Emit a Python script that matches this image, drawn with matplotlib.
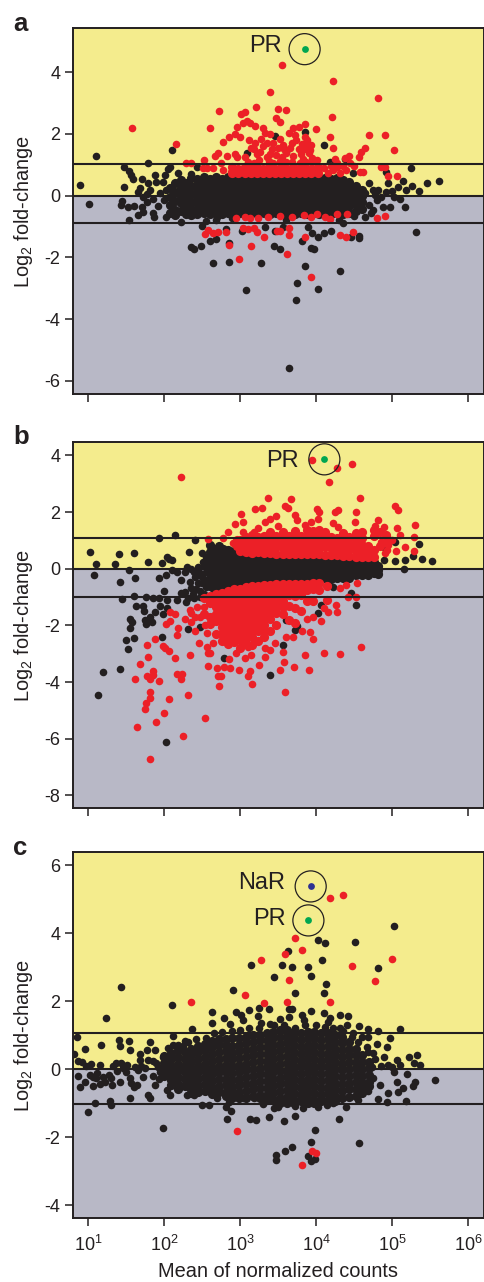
import numpy as np
import matplotlib
matplotlib.use("Agg")
import matplotlib.pyplot as plt

plt.rcParams['font.family'] = ['Liberation Sans', 'DejaVu Sans']
plt.rcParams['mathtext.fontset'] = 'custom'
plt.rcParams['mathtext.rm'] = 'Liberation Sans'
plt.rcParams['mathtext.default'] = 'rm'

# x values are log10(mean of normalized counts), y values are log2 fold-change
x_tick_labels = ['$10^{1}$', '$10^{2}$', '$10^{3}$', '$10^{4}$', '$10^{5}$', '$10^{6}$']
x_tick_exp = [1, 2, 3, 4, 5, 6]

# panel a
a_yticks = [4, 2, 0, -2, -4, -6]
a_lines = [1.03, 0, -0.88]
a_pr = (3.85, 4.75)
a_core = [
    (2.08, [.25, -.05, -.3, -.55]), (2.15, [.42, .12, -.18, -.45, -.62]), (2.22, [.52, .25, 0, -.25, -.5]),
    (2.29, [.4, .15, -.1, -.35, -.6]), (2.36, [.56, .3, .05, -.2, -.42, -.62]),
    (2.44, [.55, .35, .15, -.05, -.25, -.45, -.6]), (2.52, [.6, .45, .25, .05, -.15, -.35, -.55]),
    (2.60, [.55, .35, .15, -.05, -.25, -.45, -.6]), (2.68, [.6, .45, .25, .05, -.15, -.35, -.55]),
    (2.76, [.55, .35, .15, -.05, -.25, -.45, -.58]), (2.84, [.6, .45, .25, .05, -.15, -.35, -.55]),
    (2.92, [.56, .35, .15, -.05, -.25, -.45, -.58]), (3.00, [.6, .45, .25, .05, -.15, -.35, -.55]),
    (3.08, [.55, .36, .15, -.05, -.25, -.45, -.6]), (3.16, [.6, .45, .25, .05, -.15, -.35, -.55]),
    (3.24, [.55, .35, .15, -.05, -.25, -.45, -.6]), (3.32, [.6, .45, .25, .05, -.15, -.35, -.55]),
    (3.40, [.55, .35, .15, -.05, -.25, -.45, -.6]), (3.48, [.6, .45, .25, .05, -.15, -.35, -.55]),
    (3.56, [.55, .35, .15, -.05, -.25, -.45, -.6]), (3.64, [.6, .45, .25, .05, -.15, -.35, -.55]),
    (3.72, [.55, .35, .15, -.05, -.25, -.45, -.6]), (3.80, [.6, .45, .25, .05, -.15, -.35, -.55]),
    (3.88, [.55, .35, .15, -.05, -.25, -.45, -.6]), (3.96, [.6, .45, .25, .05, -.15, -.35, -.55]),
    (4.04, [.55, .35, .15, -.05, -.25, -.45, -.6]), (4.12, [.58, .45, .25, .05, -.15, -.35, -.55]),
    (4.20, [.55, .35, .15, -.05, -.25, -.45, -.6]), (4.28, [.58, .45, .25, .05, -.15, -.35, -.55]),
    (4.36, [.52, .35, .15, -.05, -.25, -.45, -.58]), (4.44, [.45, .25, .05, -.15, -.35, -.55]),
    (4.52, [.3, .12, -.08, -.28, -.48]), (4.60, [.18, -.02, -.22, -.42]),
]
a_black = [
    (.89, .35), (1.01, -.27), (1.11, 1.29), (1.47, .92), (1.47, .29), (1.54, .81), (1.56, .67), (1.59, .55), (1.79, 1.05),
    (2.11, 1.48), (2.08, .94), (2.05, .85), (1.88, .67), (1.79, .42), (1.71, .53), (1.68, .24), (1.66, .13), (2.01, .67),
    (1.99, .45), (2.19, .75), (1.9, .45), (1.82, .18), (1.73, -.03), (1.77, -.2), (1.71, -.36), (1.66, -.63), (1.73, -.52),
    (1.86, -.57), (1.87, -.7), (1.54, -.79), (1.44, -.3), (1.45, -.17), (1.53, -.38), (1.6, -.32), (2.02, -.68), (2.23, -.84),
    (2.5, -.97), (2.55, -.81), (2.69, -.79), (2.82, -1.09), (3.02, -1.14), (3.33, -1.03), (3.46, -1.14), (3.57, -1.0), (3.9, -1.0),
    (3.95, -1.22), (4.03, -1.33), (4.11, -1.2), (4.2, -1.14), (4.35, -.9), (4.3, -.8), (4.46, -1.35), (4.57, -1.31), (4.57, -1.37),
    (5.32, -1.17), (5.17, -.36), (4.98, -.36), (5.1, -.12), (5.03, -.03), (5.15, .49), (5.25, .91), (5.46, .42), (5.62, .49),
    (5.36, .15), (5.26, .31), (5.08, .29), (4.95, .4), (4.92, .78), (4.82, .18), (4.7, .42), (4.75, .2), (4.88, -.36), (4.8, -.14),
    (4.64, -.68), (2.61, -1.47), (2.68, -1.41), (2.86, -1.52), (2.35, -1.65), (2.39, -1.73), (2.49, -1.62), (2.64, -2.17),
    (2.85, -2.14), (3.28, -2.19), (3.08, -3.06), (3.45, -1.63), (3.52, -1.72), (3.81, -1.46), (3.94, -1.71), (3.97, -1.73),
    (3.85, -2.27), (4.32, -2.43), (3.75, -2.82), (3.74, -3.37), (4.02, -3.02), (3.64, -5.6), (3.85, 2.08), (4.11, 1.64),
    (3.46, 1.95), (3.09, 1.4), (3.61, 1.43), (4.18, 1.08), (4.02, .85), (2.43, .94), (2.36, .7), (4.49, .72), (4.38, 1.18),
    (2.7, -.7), (2.9, -.72), (3.6, -.78), (4.65, .1), (4.85, -.05), (5.0, .15), (5.18, .18), (4.72, -.55), (4.5, -.65),
    (1.95, .1), (2.0, -.15), (1.92, -.32), (1.85, -.12), (1.78, .05), (2.02, .2), (4.7, -.3), (4.75, -.45), (4.78, .02), (4.92, .12),
]
a_red_band = [
    (2.90, [.75, .92]), (2.98, [.72, .88]), (3.06, [.75, .92]), (3.14, [.72, .88]), (3.22, [.75, .92]), (3.30, [.72, .88]),
    (3.38, [.75, .92]), (3.46, [.72, .88]), (3.54, [.75, .92]), (3.62, [.72, .88]), (3.70, [.75, .92]), (3.78, [.72, .88]),
    (3.86, [.75, .92]), (3.94, [.72, .88]), (4.02, [.75, .92]),
]
a_red = [
    (1.58, 2.18), (2.16, 1.68), (2.29, 1.07), (2.35, 1.07), (2.52, 1.16), (2.56, .89), (2.65, .89), (2.6, 2.21), (2.73, 2.75),
    (2.67, 1.3), (2.71, 1.39), (2.75, 1.05), (2.78, .83), (2.78, 1.75), (2.86, 1.89), (2.83, 1.29), (2.93, 2.0), (2.93, 1.35),
    (2.96, 1.26), (3.0, 1.91), (2.96, 2.24), (3.01, 2.65), (3.07, 2.71), (3.04, 2.35), (3.09, 2.43), (3.13, 2.35), (3.2, 2.26),
    (3.21, 2.86), (3.39, 3.37), (3.5, 2.81), (3.6, 2.77), (3.48, 2.53), (3.52, 2.38), (3.55, 4.23), (4.23, 3.72), (4.21, 2.54),
    (4.81, 3.16), (3.86, 2.31), (3.7, 2.18), (3.77, 2.22), (4.0, 2.15), (4.19, 1.91), (4.7, 1.97), (4.91, 1.97), (5.03, 1.48),
    (4.23, 1.55), (4.64, 1.54), (4.59, 1.43), (4.56, 1.26), (4.44, 1.29), (4.38, 1.21), (4.25, 1.18), (4.28, 1.05), (3.3, 2.18),
    (3.33, 2.04), (3.39, 2.0), (3.53, 1.83), (3.64, 2.02), (3.72, 1.97), (3.74, 1.81), (3.94, 1.64), (3.88, 1.81), (3.77, 1.51),
    (3.66, 1.54), (3.57, 1.64), (3.44, 1.7), (3.35, 1.7), (3.2, 1.7), (3.12, 1.81), (3.15, 1.54), (3.26, 1.43), (3.35, 1.26),
    (3.48, 1.32), (3.55, 1.26), (3.7, 1.29), (3.91, 1.37), (3.83, 1.18), (4.01, 1.16), (3.07, 1.24), (3.18, 1.05), (3.44, 1.05),
    (3.61, 1.1), (3.79, 1.05), (3.42, 1.5), (3.3, 1.6), (3.6, 1.4), (3.9, 1.6), (3.85, 1.9), (3.1, 1.1), (3.25, 1.15), (3.38, 1.12),
    (3.52, 1.12), (3.68, 1.1), (3.87, 1.1), (3.95, 1.22), (3.22, 1.35), (3.4, 1.35), (3.58, 1.5), (3.8, 1.35), (3.85, 1.5), (3.92, 1.48),
    (3.28, 1.85), (3.5, 1.55), (3.18, 1.52), (3.68, 1.72), (3.82, 1.68), (3.95, 1.1),
    (2.95, -.73), (3.07, -.7), (3.13, -.73), (3.24, -.73), (3.37, -.7), (3.53, -.66), (3.69, -.68), (3.84, -.62), (3.94, -.7),
    (4.01, -.6), (4.12, -.7), (4.18, -.76), (4.28, -.58), (4.41, -.6), (4.8, -.73), (4.91, -.65),
    (2.54, -1.24), (2.58, -1.11), (2.65, -1.2), (2.71, -1.19), (2.81, -1.19), (2.86, -1.6), (3.14, -1.62), (2.99, -2.06),
    (3.04, -1.06), (3.1, -1.09), (3.18, -1.06), (3.22, -1.19), (3.31, -1.35), (3.49, -1.14), (3.53, -1.14), (3.65, -1.04),
    (3.65, -1.26), (3.85, -1.33), (4.32, -1.26), (4.39, -1.33), (4.49, -1.17), (3.62, -1.89), (3.94, -2.63),
    (4.86, .94), (4.91, .94), (4.95, .64), (5.06, .64), (4.58, .78), (4.62, .78), (4.4, .83), (4.32, .72), (4.16, .75), (4.27, .94),
    (4.45, 1.05), (4.23, .83), (4.1, .89), (2.51, .89), (2.88, .78), (4.35, .95), (4.5, .95), (4.2, .95),
]

# panel b
b_yticks = [4, 2, 0, -2, -4, -6, -8]
b_lines = [1.07, 0, -1.0]
b_pr = (4.11, 3.86)
b_core = [
    (2.60, [.85, .6, .4, .2, 0, -.2, -.4, -.6]), (2.66, [.7, .5, .3, .1, -.1, -.3, -.5, -.7]),
    (2.72, [.8, .6, .4, .2, 0, -.2, -.4, -.6, -.75]), (2.78, [.7, .5, .3, .1, -.1, -.3, -.5, -.7]),
    (2.84, [.65, .45, .25, .05, -.15, -.35, -.55, -.72]), (2.92, [.62, .42, .22, .02, -.18, -.38, -.58]),
    (3.00, [.58, .38, .18, -.02, -.22, -.42, -.6]), (3.08, [.52, .32, .12, -.08, -.28, -.48]),
    (3.16, [.5, .3, .1, -.1, -.3, -.5]), (3.24, [.5, .32, .12, -.08, -.28, -.46]),
    (3.32, [.48, .3, .1, -.1, -.3, -.48]), (3.40, [.48, .28, .08, -.12, -.32, -.44]),
    (3.48, [.48, .3, .1, -.1, -.3, -.46]), (3.56, [.46, .28, .08, -.12, -.32, -.44]),
    (3.64, [.48, .3, .1, -.1, -.3, -.44]), (3.72, [.46, .28, .08, -.12, -.32, -.42]),
    (3.80, [.46, .3, .1, -.1, -.3, -.42]), (3.88, [.46, .28, .08, -.12, -.32, -.42]),
    (3.96, [.44, .3, .1, -.1, -.3, -.4]), (4.04, [.44, .26, .06, -.14, -.34, -.4]),
    (4.12, [.42, .26, .06, -.14, -.34]), (4.20, [.42, .24, .04, -.16, -.36]),
    (4.28, [.4, .22, .02, -.18, -.34]), (4.36, [.36, .18, -.02, -.2, -.34]),
    (4.44, [.34, .16, -.04, -.22, -.32]), (4.52, [.32, .14, -.06, -.24]),
    (4.60, [.3, .12, -.08, -.24]), (4.68, [.28, .1, -.1, -.22]), (4.76, [.22, .04, -.14]), (4.82, [.1, -.06, -.18]),
]
b_black = [
    (1.03, .6), (1.08, -.21), (1.11, .15), (1.36, .15), (1.41, .51), (1.6, .54), (1.54, -.04), (1.42, -.48), (1.62, -.33),
    (1.79, .22), (1.98, .21), (1.94, 1.07), (2.14, 1.19), (2.41, 1.01), (2.04, .42), (2.07, .36), (2.1, .31), (2.33, .59),
    (2.5, .54), (2.51, .25), (2.62, .8), (1.93, -.33), (2.02, -.22), (2.1, -.05), (2.17, -.13), (2.3, .07), (2.36, 0), (2.45, .05),
    (2.23, -.4), (2.34, -.46), (2.41, -.28), (2.36, -.69), (2.23, -.87), (2.28, -.81), (2.0, -.78), (1.6, -.95), (1.45, -1.06),
    (1.76, -.99), (1.86, -1.05), (1.93, -1.05), (2.04, -1.11), (2.17, -1.11), (2.29, -1.16), (2.47, -.99), (1.63, -1.32),
    (1.72, -1.32), (1.74, -1.48), (1.95, -1.32), (2.04, -1.4), (1.88, -1.52), (1.82, -1.69), (1.75, -1.81), (1.76, -1.95),
    (1.84, -1.87), (1.99, -1.6), (1.55, -1.79), (1.58, -1.89), (1.55, -2.11), (1.61, -2.44), (1.5, -2.52), (1.53, -2.85),
    (1.97, -2.4), (1.2, -3.64), (1.42, -3.54), (1.13, -4.45), (2.03, -6.12), (2.32, -2.14), (2.47, -2.05), (3.39, -3.75),
    (3.57, -2.69), (2.79, -3.16), (3.72, -2.16), (3.75, -2.02), (3.61, -1.81), (4.07, -1.28), (4.02, -1.55), (4.23, -.64),
    (4.46, -.87), (4.53, -1.28), (4.81, -.16), (4.89, .78), (5.04, .95), (5.35, .86), (5.27, .46), (5.4, .33), (5.53, .26),
    (5.17, .31), (5.04, .27), (5.16, 0), (4.9, .31), (4.75, .07), (2.5, -.3), (2.55, -.1), (2.45, -.5), (2.52, .1),
    (2.28, -.1), (2.4, -.1), (2.5, -.5), (2.42, -.72), (2.38, -.88), (2.32, -1.02), (2.48, -.78), (2.55, -.4), (2.55, -.65), (2.48, -.15), (2.4, -1.05),
    (2.55, .4), (2.57, .1), (2.53, -.88),
]
b_red = [
    (2.23, 3.25), (3.95, 3.82), (4.47, 3.71), (4.27, 3.54), (4.17, 3.05), (3.37, 2.49), (3.67, 2.45), (4.58, 2.51), (3.2, 2.12),
    (3.29, 2.14), (3.01, 1.92), (3.59, 2.21), (3.63, 2.14), (4.01, 2.09), (4.04, 2.01), (4.25, 1.99), (4.29, 2.07), (4.52, 2.0),
    (5.04, 2.21), (5.08, 2.07), (3.04, 1.65), (2.93, 1.58), (3.48, 1.86), (3.72, 1.89), (3.75, 1.72), (3.94, 1.65), (4.03, 1.74),
    (4.51, 1.66), (3.33, 1.66), (3.39, 1.75), (3.5, 1.51), (4.81, 1.72), (5.3, 1.53), (5.06, 1.42), (4.89, 1.46), (5.29, 1.13),
    (5.11, 1.19), (5.17, .78), (5.29, .64), (5.05, .64), (2.84, 1.28), (3.04, 1.28), (2.58, 1.04), (2.77, 1.07), (2.91, .89),
    (2.98, .78), (4.93, 1.13), (4.78, 1.51), (4.23, 1.6), (4.29, 1.48), (3.18, 1.31), (3.24, 1.42), (3.86, 1.54), (4.93, .66),
    (4.91, .54), (4.85, .95), (5.0, 1.0), (4.95, .85),
    (1.77, -2.68), (1.79, -3.13), (1.69, -3.35), (1.62, -3.88), (1.88, -2.49), (1.99, -2.73), (2.01, -2.79), (2.07, -2.91),
    (2.14, -3.14), (2.34, -3.06), (2.17, -2.35), (2.19, -2.08), (2.27, -1.78), (2.15, -1.61), (2.08, -1.85), (2.03, -1.95),
    (2.08, -1.54), (2.17, -3.72), (2.24, -3.72), (2.22, -3.91), (1.85, -3.6), (1.78, -3.78), (1.86, -3.75), (1.82, -3.91),
    (1.93, -3.98), (2.32, -4.45), (1.81, -4.35), (1.82, -4.58), (1.76, -4.75), (1.75, -4.96), (2.06, -4.61), (2.0, -5.08),
    (1.89, -5.41), (1.64, -5.59), (1.81, -6.71), (2.25, -5.89), (2.54, -5.28), (2.46, -2.64), (2.57, -2.75), (2.65, -2.64),
    (2.58, -2.99), (2.61, -2.99), (2.58, -3.42), (2.7, -3.49), (2.71, -3.79), (2.75, -3.79), (2.73, -4.13), (2.79, -3.46),
    (2.86, -3.2), (2.87, -3.52), (2.99, -3.58), (3.13, -3.6), (3.1, -3.79), (3.16, -4.06), (3.25, -3.41), (3.53, -3.58),
    (3.71, -3.46), (3.91, -3.59), (3.59, -4.36), (3.58, -3.28), (3.57, -2.93), (3.85, -3.05), (4.11, -2.99), (4.31, -3.02),
    (4.59, -2.75), (3.96, -2.47), (3.92, -2.22), (3.82, -2.2), (3.7, -2.42), (3.6, -2.4), (3.33, -3.13), (3.39, -2.87),
    (3.33, -2.81), (3.46, -2.64), (3.07, -3.16), (3.15, -3.05), (2.95, -2.99), (3.1, -2.75), (4.07, -1.85), (3.96, -1.69),
    (3.88, -1.79), (4.27, -1.52), (4.16, -1.52), (4.26, -1.28), (4.1, -1.4), (4.32, -.69), (4.4, -.58), (4.54, -.52), (4.53, -.99),
    (4.42, -.99), (2.34, -1.46), (2.36, -1.58), (2.43, -1.34), (2.41, -1.69), (2.47, -1.69), (2.36, -1.87), (2.41, -2.19),
    (2.54, -1.99), (2.57, -2.28), (2.52, -1.34),
]
b_red_upper = [
    (2.96, [.8, 1.0]), (3.0, [.62, .8, 1.0]), (3.08, [.58, .72, .92, 1.12]), (3.16, [.55, .75, .95, 1.2]), (3.24, [.58, .72, .92, 1.12]),
    (3.32, [.55, .75, .95, 1.15]), (3.40, [.55, .72, .92, 1.1, 1.3]), (3.48, [.53, .75, .95, 1.15]), (3.56, [.53, .72, .92, 1.12, 1.3]),
    (3.64, [.53, .75, .95, 1.15]), (3.72, [.53, .72, .92, 1.12, 1.32]), (3.80, [.53, .75, .95, 1.15]), (3.88, [.53, .72, .92, 1.12, 1.35]),
    (3.96, [.52, .75, .95, 1.15, 1.32]), (4.04, [.52, .72, .92, 1.12, 1.38]), (4.12, [.5, .75, .95, 1.15, 1.3]), (4.20, [.5, .72, .92, 1.12]),
    (4.28, [.48, .7, .9, 1.1]), (4.36, [.45, .65, .85, 1.05, 1.25]), (4.44, [.45, .68, .88, 1.12]), (4.52, [.42, .62, .82, 1.02, 1.25]),
    (4.60, [.42, .65, .85, 1.1, 1.3]), (4.68, [.4, .6, .8]), (4.76, [.42, .65, 1.15, 1.35]), (4.84, [.8, 1.3]),
    (4.92, [.95, 1.2]),
]
b_red_lower = [
    (2.52, [-1.05, -1.6]), (2.60, [-.95, -1.2, -1.7, -1.95]), (2.68, [-.9, -1.1, -1.35, -1.6, -1.85, -2.3]),
    (2.76, [-.85, -1.05, -1.25, -1.45, -1.65, -1.85, -2.05, -2.3, -2.55]), (2.84, [-.78, -1, -1.2, -1.4, -1.6, -1.8, -2, -2.2, -2.4, -2.65]),
    (2.92, [-.72, -.95, -1.15, -1.35, -1.55, -1.75, -1.95, -2.15, -2.35, -2.6]),
    (3.00, [-.7, -.9, -1.1, -1.3, -1.5, -1.7, -1.9, -2.1, -2.3, -2.5, -2.8]),
    (3.08, [-.66, -.85, -1.05, -1.25, -1.45, -1.65, -1.85, -2.05, -2.25, -2.45, -2.65]),
    (3.16, [-.62, -.82, -1.02, -1.22, -1.42, -1.62, -1.82, -2.02, -2.22, -2.42, -2.7]),
    (3.24, [-.6, -.8, -1, -1.2, -1.4, -1.6, -1.8, -2, -2.2, -2.55]),
    (3.32, [-.58, -.78, -.98, -1.18, -1.38, -1.58, -1.78, -1.98, -2.18, -2.4]),
    (3.40, [-.56, -.76, -.96, -1.16, -1.36, -1.56, -1.76, -2.2]),
    (3.48, [-.55, -.75, -.95, -1.15, -1.35, -1.55, -1.98]),
    (3.56, [-.55, -.75, -.95, -1.15, -1.35, -1.6]), (3.64, [-.55, -.72, -.92, -1.32, -1.8]),
    (3.72, [-.55, -.75, -.95, -1.4, -1.9]), (3.80, [-.55, -.72, -.92, -1.5]),
    (3.88, [-.55, -.75, -1.15]), (3.96, [-.52, -.72, -1.15]), (4.04, [-.52, -.75]), (4.14, [-.6, -1.1]),
]

# panel c
c_yticks = [6, 4, 2, 0, -2, -4]
c_lines = [1.07, 0, -1.03]
c_pr = (3.9, 4.37)
c_nar = (3.93, 5.37)
c_core = [
    (2.00, [.38, .18, -.02, -.22]), (2.09, [.48, .28, .08, -.12, -.32, -.48]), (2.18, [.55, .36, .16, -.04, -.24, -.44, -.6]),
    (2.27, [.5, .3, .1, -.1, -.3, -.5]), (2.36, [.6, .4, .2, 0, -.2, -.4, -.6, -.7]), (2.45, [.68, .5, .3, .1, -.1, -.3, -.5, -.68]),
    (2.54, [.74, .56, .36, .16, -.04, -.24, -.44, -.64]), (2.63, [.82, .64, .44, .24, .04, -.16, -.36, -.56, -.74]),
    (2.72, [.88, .7, .5, .3, .1, -.1, -.3, -.5, -.68]), (2.81, [.88, .72, .52, .32, .12, -.08, -.28, -.48, -.68, -.8]),
    (2.90, [.9, .68, .48, .28, .08, -.12, -.32, -.52, -.72, -.84]), (2.99, [.9, .72, .52, .32, .12, -.08, -.28, -.48, -.68, -.84]),
    (3.08, [.95, .76, .56, .36, .16, -.04, -.24, -.44, -.64, -.84]), (3.17, [1.0, .8, .6, .4, .2, 0, -.2, -.4, -.6, -.8]),
    (3.26, [1.0, .84, .64, .44, .24, .04, -.16, -.36, -.56, -.76, -.85]), (3.35, [1.05, .85, .65, .45, .25, .05, -.15, -.35, -.55, -.75, -.9]),
    (3.44, [1.1, .9, .7, .5, .3, .1, -.1, -.3, -.5, -.7, -.92]), (3.53, [1.15, .95, .75, .55, .35, .15, -.05, -.25, -.45, -.65, -.85, -1.0]),
    (3.62, [1.15, .98, .78, .58, .38, .18, -.02, -.22, -.42, -.62, -.82, -1.0]), (3.71, [1.1, .9, .7, .5, .3, .1, -.1, -.3, -.5, -.7, -.9, -1.0]),
    (3.80, [1.05, .85, .65, .45, .25, .05, -.15, -.35, -.55, -.75, -.95]), (3.89, [1.1, .92, .72, .52, .32, .12, -.08, -.28, -.48, -.68, -.88, -1.0]),
    (3.98, [1.1, .9, .7, .5, .3, .1, -.1, -.3, -.5, -.7, -.9, -1.0]), (4.07, [1.05, .85, .65, .45, .25, .05, -.15, -.35, -.55, -.75, -.95]),
    (4.16, [1.05, .88, .68, .48, .28, .08, -.12, -.32, -.52, -.72, -.92]), (4.25, [1.0, .8, .6, .4, .2, 0, -.2, -.4, -.6, -.8, -.95]),
    (4.34, [.95, .76, .56, .36, .16, -.04, -.24, -.44, -.64, -.84]), (4.43, [.8, .6, .4, .2, 0, -.2, -.4, -.6, -.82]),
    (4.52, [.6, .42, .22, .02, -.18, -.38, -.58, -.78]), (4.61, [.4, .2, 0, -.2, -.4, -.6, -.7]), (4.70, [.2, .02, -.18, -.38, -.5]),
]
c_black = [
    (.82, .43), (.86, .93), (.96, .59), (.87, .25), (.92, .22), (.87, -.2), (.89, -.52), (.96, -.39), (1.04, .14), (1.06, -.23),
    (1.06, -.49), (1.11, -.27), (1.16, -.44), (1.16, .12), (1.17, .7), (1.2, -.23), (1.27, -.18), (1.31, -.47), (1.3, -.27),
    (1.09, -1.01), (1.0, -1.26), (1.29, -.93), (1.3, -1.07), (1.24, 1.51), (1.43, 2.41), (1.41, .85), (1.42, .68), (1.54, .82),
    (1.55, .56), (1.37, .17), (1.44, .19), (1.51, .12), (1.46, .02), (1.42, -.37), (1.55, -.27), (1.6, -.52), (1.55, -.84),
    (1.62, .07), (1.68, .44), (1.68, .26), (1.66, -.03), (1.64, -.47), (1.82, .8), (1.77, .56), (1.88, .56), (1.79, .26),
    (1.73, -.23), (1.79, -.76), (1.82, -.86), (1.9, .17), (1.88, -.47), (1.99, .34), (2.08, -.76), (2.04, -.62), (2.21, -.52),
    (2.3, -.76), (2.39, -.76), (2.5, -1.06), (2.59, -1.06), (1.99, -1.73), (2.1, 1.88), (2.37, 1.18), (2.12, .98), (2.28, .83),
    (2.63, 1.34), (2.63, 1.69), (2.79, 1.49), (2.87, 1.31), (2.91, 2.32), (2.95, 1.69), (3.01, 1.59), (3.04, 1.44), (3.12, 1.73),
    (3.24, 1.57), (3.25, 1.78), (3.38, 1.76), (3.28, 1.34), (3.39, 1.32), (3.15, 3.07), (3.55, 3.05), (3.45, 2.7), (3.68, 3.01),
    (3.9, 2.99), (3.93, 2.75), (3.63, 3.48), (4.02, 3.8), (4.12, 3.72), (4.08, 3.2), (4.51, 3.73), (5.03, 4.21), (4.81, 2.97),
    (4.13, 2.49), (4.1, 2.23), (3.73, 2.25), (3.94, 1.71), (4.11, 1.65), (3.64, 1.76), (3.68, 1.76), (3.82, 1.59), (4.18, 1.49),
    (4.16, 1.39), (4.32, 1.6), (4.42, 1.57), (3.64, 1.52), (3.52, 1.46), (3.84, 1.44), (4.56, 1.27), (4.69, 1.17), (4.81, 1.13),
    (5.1, 1.17), (4.32, 1.22), (4.41, 1.29), (4.98, .92), (4.93, .66), (4.8, .75), (5.23, .36), (5.33, .41), (5.29, .17),
    (5.37, .11), (5.07, .26), (5.11, .12), (4.89, .36), (4.95, .12), (4.75, .46), (4.67, .66), (4.6, .95), (4.49, 1.05), (4.69, .95),
    (5.2, -.16), (5.3, -.39), (5.28, -.5), (5.56, -.33), (5.15, -.57), (5.07, -.37), (5.08, -.67), (5.18, -.93), (4.82, -.89),
    (4.94, -.96), (4.95, -.72), (4.84, -.47), (4.75, -.27), (4.54, -.81), (4.39, -1.11), (4.3, -1.46), (3.73, -1.38), (3.58, -1.52),
    (3.38, -1.4), (3.21, -1.5), (3.13, -1.46), (2.83, -1.46), (2.88, -1.23), (2.82, -1.11), (3.45, -1.16), (3.99, -1.78),
    (3.93, -2.14), (3.68, -2.28), (3.59, -2.41), (3.48, -2.54), (3.48, -2.68), (3.9, -2.55), (3.93, -2.71), (3.99, -2.65),
    (4.56, -2.19), (2.91, -.81), (3.04, -.86), (3.18, -.86), (4.03, -1.13), (3.83, -1.16), (4.23, -1.01), (3.72, -1.08),
    (4.78, .3), (4.62, -.4), (4.85, .1), (5.0, .05), (4.74, .05), (5.02, -.1), (4.68, -.65),
    (.98, .1), (1.02, -.18), (1.12, -.12), (1.22, -.38), (1.33, .08), (1.38, -.05), (1.5, -.1), (1.56, -.42), (1.7, .1), (1.75, .02),
    (1.85, .25), (1.92, .05), (1.95, -.1), (1.85, -.2), (1.93, -.3), (2.05, .62), (2.12, .7), (2.18, .72), (2.25, .68), (2.32, .78),
    (2.42, .88), (2.55, .9), (2.66, 1.05), (2.76, 1.1), (2.9, 1.12), (3.0, 1.15), (3.12, 1.22), (3.25, 1.2), (3.45, 1.28), (3.58, 1.3),
    (3.72, 1.22), (3.85, 1.28), (4.0, 1.3), (4.12, 1.25), (4.22, 1.2), (4.35, 1.12), (4.48, .95), (4.55, .78), (4.68, .5),
    (2.7, -.85), (2.85, -.98), (3.3, -1.02), (3.5, -1.12), (4.15, -1.05), (4.55, -.92),
]
c_red = [
    (2.36, 1.97), (3.06, 2.18), (3.31, 1.94), (3.28, 3.21), (3.59, 3.38), (3.82, 3.49), (3.72, 3.85), (3.65, 2.61), (3.62, 1.97),
    (4.18, 1.96), (4.48, 3.02), (4.77, 2.58), (5.0, 3.25), (4.19, 5.03), (4.35, 5.11), (2.96, -1.83), (3.82, -2.83), (3.95, -2.42), (4.0, -2.46),
]

black = '#231f20'
red = '#ec2027'
W, H = 484, 1282


def draw_core(ax, core, color):
    xs, ys = [], []
    for x, col in core:
        xs += [x] * len(col)
        ys += col
    ax.scatter(10 ** np.array(xs), ys, s=44, color=color, linewidths=0, zorder=3)


def draw_points(ax, pts, color):
    arr = np.array(pts)
    ax.scatter(10 ** arr[:, 0], arr[:, 1], s=30, color=color, linewidths=0, zorder=3)


def draw_panel(top, bottom, y_zero, px_per_unit, yticks, lines, blacks, reds, show_x):
    ax = fig.add_axes([72.5 / W, 1 - bottom / H, (483.5 - 72.5) / W, (bottom - top) / H])
    ax.set_xscale('log')
    ax.set_xlim(10 ** 0.796, 10 ** 6.204)
    ax.set_ylim((y_zero - bottom) / px_per_unit, (y_zero - top) / px_per_unit)
    ax.set_facecolor('#b8b8c6')
    ax.axhspan(0, (y_zero - top) / px_per_unit, color='#f4ec8d', lw=0, zorder=0)

    draw_core(ax, blacks[0], black)
    draw_points(ax, blacks[1], black)
    for core in reds[0]:
        draw_core(ax, core, red)
    draw_points(ax, reds[1], red)

    for val in lines:
        ax.axhline(val, color=black, lw=1.5, zorder=4)

    ax.set_xticks([10 ** e for e in x_tick_exp])
    ax.minorticks_off()
    ax.set_yticks(yticks)
    ax.set_yticklabels([str(t) for t in yticks], fontsize=13, color=black)
    ax.tick_params(axis='both', length=5.8, width=1.1, color=black, pad=3)
    if show_x:
        ax.set_xticklabels(x_tick_labels, fontsize=13, color=black)
        ax.tick_params(axis='x', pad=6)
        ax.set_xlabel('Mean of normalized counts', fontsize=14.4, color=black, labelpad=5)
    else:
        ax.set_xticklabels([])
    ax.set_ylabel('Log$_2$ fold-change', fontsize=14.4, color=black)
    ax.yaxis.set_label_coords((35 - 72.5) / 411, 0.5)
    for s in ax.spines.values():
        s.set_color(black)
        s.set_linewidth(1.4)
    return ax


def mark(ax, pos, color, label, lx, ly):
    ax.scatter(10 ** pos[0], pos[1], s=24, color=color, linewidths=0, zorder=6)
    ax.scatter(10 ** pos[0], pos[1], s=500, facecolors='none', edgecolors=black, linewidths=0.9, zorder=6)
    ax.text(10 ** lx, ly, label, fontsize=17, color=black, ha='center', va='center', zorder=6)


fig = plt.figure(figsize=(W / 100, H / 100), dpi=100)

ax_a = draw_panel(28, 394, 195.7, 30.85, a_yticks, a_lines, (a_core, a_black), ([a_red_band], a_red), False)
mark(ax_a, a_pr, '#00a651', 'PR', 3.33, 4.85)

ax_b = draw_panel(442, 808.3, 568.7, 28.33, b_yticks, b_lines, (b_core, b_black), ([b_red_upper, b_red_lower], b_red), False)
mark(ax_b, b_pr, '#00a651', 'PR', 3.56, 3.81)

ax_c = draw_panel(852, 1218.3, 1069, 34, c_yticks, c_lines, (c_core, c_black), ([], c_red), True)
mark(ax_c, c_pr, '#00a651', 'PR', 3.39, 4.42)
mark(ax_c, c_nar, '#2e3192', 'NaR', 3.28, 5.46)

for letter, y in [('a', 24), ('b', 437), ('c', 848)]:
    fig.text(13 / W, 1 - y / H, letter, fontsize=18.5, fontweight='bold', color=black, ha='left', va='center')

fig.savefig('out.png', dpi=100)
